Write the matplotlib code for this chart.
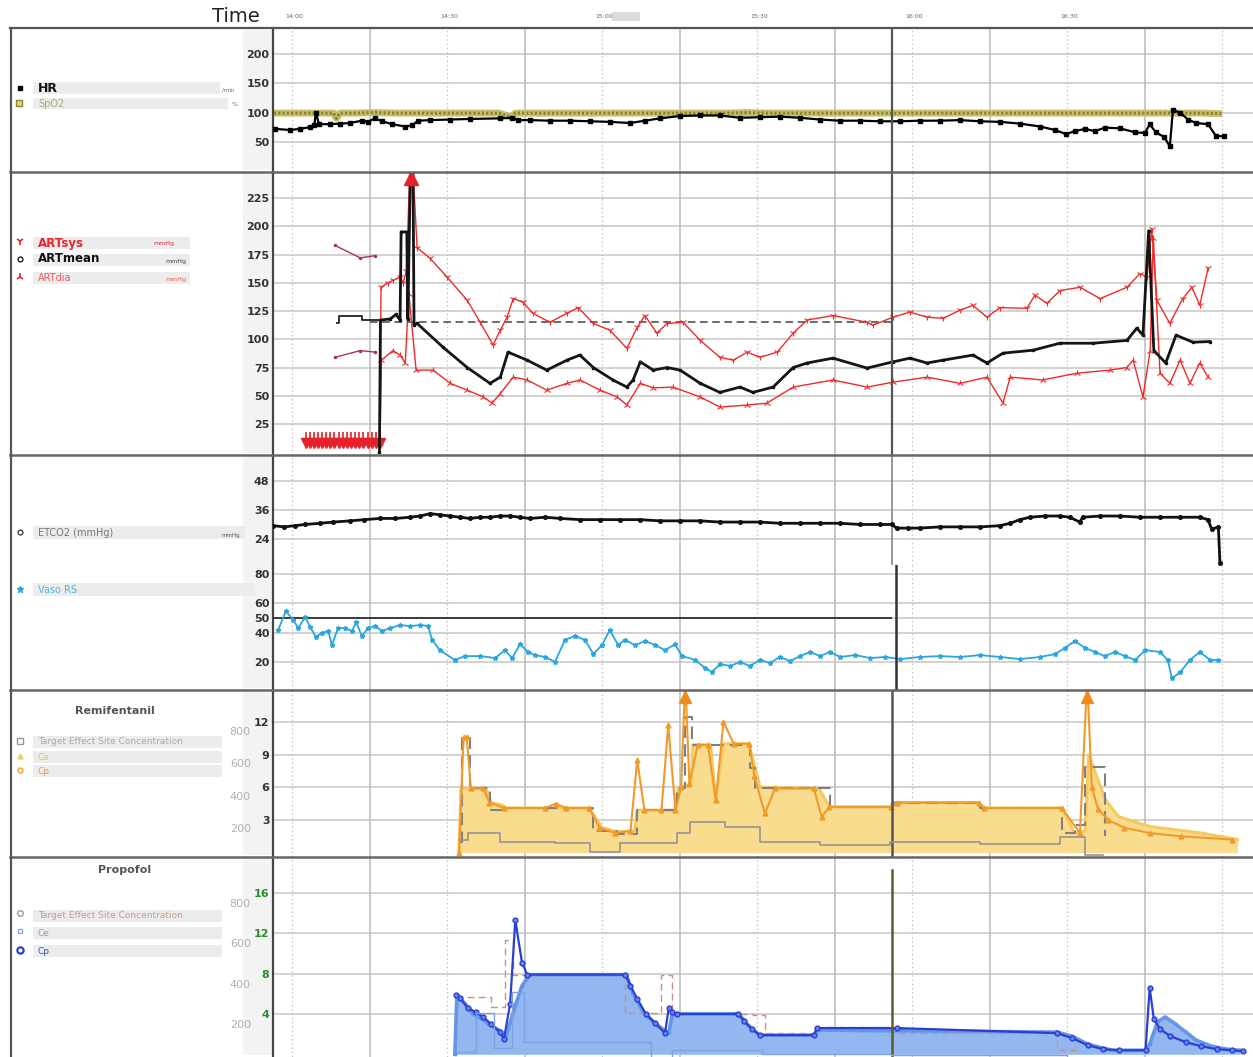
import numpy as np
import matplotlib.pyplot as plt
from matplotlib.lines import Line2D
from matplotlib.patches import Rectangle

# time base: minutes after 14:00
T0, T1 = -3.7, 186.0
cursor_t = 116.1
time_ticks = [0, 30, 60, 90, 120, 150]
time_labels = ["14:00", "14:30", "15:00", "15:30", "16:00", "16:30"]

# --- HR / SpO2 ---
hr_t = [-3.3, -0.4, 1.5, 3.5, 4.3, 4.6, 5.2, 7.4, 9.3, 11.2, 13.5, 14.7, 16.0, 17.4, 19.4,
        21.9, 23.2, 24.4, 26.7, 30.6, 34.4, 40.3, 42.6, 43.7, 46.0, 50.0, 53.8, 57.7, 61.5,
        65.4, 68.3, 71.2, 75.0, 79.0, 82.8, 86.7, 90.6, 94.4, 98.3, 102.2, 106.0, 110.0,
        113.8, 117.7, 121.5, 125.4, 129.3, 133.2, 137.0, 140.9, 144.8, 147.7, 149.8, 151.5,
        153.5, 155.4, 157.3, 160.2, 163.2, 165.1, 166.0, 167.2, 168.8, 169.9, 170.5, 171.9,
        173.4, 175.0, 177.3, 178.8, 180.4]
hr = [72, 70, 72, 75, 78, 100, 80, 80, 81, 82, 86, 84, 90, 85, 80,
      76, 78, 86, 87, 88, 89, 90, 91, 87, 87, 86, 86, 85, 84,
      82, 86, 90, 94, 95, 95, 91, 92, 93, 91, 88, 86, 86,
      85, 85, 86, 86, 87, 85, 84, 81, 76, 70, 63, 68,
      72, 68, 74, 73, 66, 65, 80, 66, 58, 42, 104, 100,
      88, 82, 80, 60, 59]
spo2_t = [-3.5, 0, 4, 8, 8.6, 9.2, 12, 16, 20, 24, 28, 32, 36, 40, 42.6, 43.2, 44, 48, 52,
          56, 60, 64, 68, 72, 76, 80, 84, 88, 92, 96, 100, 104, 108, 112, 116, 120, 124,
          128, 132, 136, 140, 144, 148, 152, 156, 160, 164, 168, 172, 176, 180]
spo2 = [99, 99, 99, 99, 90, 99, 99, 100, 99, 99, 99, 99, 99, 99, 92, 99, 99, 99, 99,
        99, 99, 99, 99, 99, 99, 99, 99, 100, 99, 99, 99, 99, 99, 99, 99, 99, 99,
        99, 99, 99, 99, 99, 99, 99, 99, 99, 99, 99, 99, 99, 98]

# --- arterial pressure ---
art_ref_level = 115
art_low_t = [2.6, 3.4, 4.2, 5.0, 5.8, 6.6, 7.4, 8.2, 9.0, 9.8, 10.6, 11.4, 12.2, 13.0,
             13.8, 14.6, 15.4, 16.2, 17.0]
art_low = [8, 8, 8, 8, 8, 8, 8, 8, 8, 8, 8, 8, 8, 8, 8, 8, 8, 8, 8]
art_over_t = [23.1]
nibp_t = [8.3, 13.2, 16.1]
nibp_sys = [183, 172, 174]
nibp_dia = [84, 90, 88.6]
nibp_mean_t = [8.7, 9.0, 13.5, 17.0]
nibp_mean = [114, 121, 117, 117]
art_sys_t = [17.0, 17.2, 18.6, 19.5, 20.9, 21.5, 22.1, 22.8, 23.4, 24.2, 26.7, 30.0, 33.9,
             36.4, 38.9, 40.3, 41.6, 42.8, 44.7, 46.6, 49.9, 53.2, 55.4, 58.3, 61.5, 64.8,
             66.8, 68.3, 70.6, 72.6, 75.7, 79.0, 82.8, 85.4, 88.1, 90.6, 93.9, 97.0, 99.7,
             104.7, 111.3, 112.4, 116.3, 119.6, 122.9, 126.0, 129.3, 131.8, 134.5, 137.0,
             142.2, 143.8, 146.1, 148.6, 152.5, 156.4, 161.6, 164.1, 165.5, 166.4, 167.4,
             169.9, 172.4, 174.2, 175.7, 177.3]
art_sys = [8, 146, 150, 152, 155, 150, 160, 250, 250, 181, 171.6, 155, 134.5,
           115, 95, 108, 119.5, 136, 132.7, 123, 115, 123, 128, 114, 108, 92,
           110.6, 121, 105.4, 114, 115, 99, 84, 81.5, 88.6, 84, 88.6, 105.4, 117,
           121, 115, 112.4, 119.5, 124, 119.5, 118.6, 125.7, 130, 119.5, 128,
           127.4, 139, 131.8, 143, 146, 136, 146, 158, 155, 198, 134.5,
           114, 136, 146, 130, 163]
art_dia_t = [17.0, 17.3, 19.5, 20.9, 21.9, 22.6, 24.0, 27.3, 30.6, 33.9, 37.0, 38.7, 40.3,
             42.8, 45.5, 49.3, 53.2, 55.7, 59.6, 62.9, 64.8, 67.4, 69.9, 73.7, 79.0, 82.8,
             88.1, 91.9, 97.0, 104.7, 111.3, 116.3, 122.9, 129.3, 134.5, 137.6, 139.0,
             145.3, 151.9, 158.3, 161.6, 162.8, 164.7, 166.1, 166.7, 168.0, 169.9, 171.9,
             173.8, 175.7, 177.3]
art_dia = [8, 81.5, 90, 86, 79, 140, 72.7, 72.7, 61, 55, 49, 43.5, 52,
           66.5, 64, 55, 61, 64, 55, 49, 41.8, 61, 57, 57.7, 49, 40,
           41.8, 43.5, 57.7, 64, 57.7, 62, 66.5, 61, 66.5, 43.5, 66.5,
           64, 70, 72.7, 75, 81.5, 49, 90, 190, 70, 61, 81.5,
           61, 79, 66.5]
art_mean_t = [16.9, 17.1, 19.0, 20.1, 20.9, 21.1, 22.2, 22.4, 22.9, 23.4, 23.6, 24.2, 29.2,
              33.9, 38.3, 40.3, 41.8, 45.5, 49.3, 53.2, 55.7, 58.3, 62.1, 64.8, 66.0, 67.4,
              69.9, 72.6, 75.1, 79.0, 82.8, 86.7, 89.2, 93.1, 97.0, 99.7, 104.7, 111.3,
              116.3, 119.6, 122.9, 126.0, 131.8, 134.5, 137.6, 143.4, 148.6, 155.0, 161.6,
              163.5, 164.7, 165.8, 166.8, 169.1, 171.1, 174.4, 177.7]
art_mean = [0, 117, 118, 122, 117, 195, 195, 118, 250, 250, 113, 114, 93,
            75, 61, 66.5, 88.6, 81.5, 72.7, 81.5, 86, 75, 64, 57.7, 64, 80,
            72.7, 75, 72.7, 61, 53, 57.7, 53, 57.7, 75, 79, 83.3, 74.5,
            80, 83.3, 79, 81.5, 86, 79, 87.7, 90.3, 96.5, 96.5, 99,
            109.8, 103.6, 196, 90, 79, 103.6, 97.4, 98]

# --- ETCO2 / Vaso RS ---
etco2_t = [-3.7, -1.5, 0.5, 2.5, 5.4, 8.0, 11.2, 14.0, 17.0, 20.0, 22.8, 24.8, 26.7, 28.7,
           30.6, 32.5, 34.4, 36.4, 38.3, 40.3, 42.2, 44.1, 46.0, 49.0, 51.9, 55.8, 59.6,
           63.5, 67.4, 71.2, 75.0, 79.0, 82.8, 86.7, 90.6, 94.4, 98.3, 102.2, 106.0, 110.0,
           113.8, 116.1, 117.0, 119.3, 121.5, 125.4, 129.3, 133.2, 137.0, 139.0, 140.9,
           142.8, 145.7, 148.6, 150.5, 152.5, 153.0, 156.4, 160.2, 164.1, 168.0, 171.9,
           175.7, 177.3, 178.0, 179.3, 179.6]
etco2 = [29.5, 29.0, 29.5, 30.0, 30.5, 31.0, 31.5, 32.0, 32.5, 32.5, 33.0, 33.5, 34.5, 34.0,
         33.5, 33.0, 32.5, 33.0, 33.0, 33.5, 33.5, 33.0, 32.5, 33.0, 32.5, 32.0, 32.0,
         32.0, 32.0, 31.5, 31.5, 31.5, 31.0, 31.0, 31.0, 30.5, 30.5, 30.5, 30.5, 30.0,
         30.0, 30.0, 28.5, 28.5, 28.5, 29.0, 29.0, 29.0, 29.5, 30.5, 32.0,
         33.0, 33.5, 33.5, 33.0, 31.0, 33.0, 33.5, 33.5, 33.0, 33.0, 33.0,
         33.0, 32.0, 28.0, 29.0, 14.0]
vaso_ref_level = 50
vaso_t = [-2.7, -1.2, 0.2, 1.2, 2.5, 3.5, 4.6, 5.8, 7.0, 7.7, 8.9, 10.3, 11.6, 12.4, 13.5,
          14.7, 16.1, 17.4, 19.0, 20.9, 22.8, 24.8, 26.3, 27.1, 28.6, 31.5, 33.5, 36.4,
          39.3, 41.2, 42.6, 44.1, 45.7, 47.0, 49.0, 50.9, 52.8, 54.8, 56.7, 58.3, 60.0,
          61.5, 63.1, 64.4, 66.4, 68.3, 70.3, 72.2, 74.1, 75.5, 78.0, 79.9, 81.3, 82.8,
          84.8, 86.7, 88.6, 90.6, 92.5, 94.4, 96.4, 98.3, 100.3, 102.2, 104.1, 106.1,
          109.0, 111.9, 114.8, 117.7, 121.5, 125.4, 129.3, 133.2, 137.0, 140.9, 144.8,
          147.7, 149.6, 151.5, 153.5, 155.4, 157.3, 159.3, 161.2, 163.2, 165.1, 168.0,
          169.5, 170.3, 171.9, 173.8, 175.7, 177.7, 179.2]
vaso = [41.7, 54.6, 48.5, 43.0, 50.5, 43.7, 37.0, 39.7, 41.0, 31.5, 43.0, 43.0, 41.0, 47.0,
        37.6, 43.0, 44.4, 41.0, 43.0, 45.0, 44.4, 45.0, 44.4, 35.0, 28.0, 21.4, 24.0, 24.0,
        22.7, 28.0, 22.7, 32.0, 26.8, 24.7, 23.4, 20.0, 35.0, 37.6, 35.0, 25.4, 31.5,
        41.7, 31.5, 35.0, 31.5, 34.2, 31.5, 28.0, 32.0, 24.0, 21.4, 16.0, 13.2, 18.6,
        17.3, 20.0, 17.3, 21.4, 19.3, 23.4, 20.7, 24.0, 26.8, 24.0, 26.8, 23.4,
        24.7, 22.7, 23.4, 22.0, 23.4, 24.0, 23.4, 24.7, 23.4, 22.0, 23.4,
        25.4, 29.5, 34.2, 29.5, 26.8, 24.0, 26.8, 24.0, 21.4, 28.0, 26.8,
        21.4, 9.0, 13.0, 21.4, 26.8, 21.4, 21.4]

# --- Remifentanil (ng/ml on right scale, rate on left scale) ---
remi_tec_t = [32.5, 32.9, 34.4, 38.3, 41.2, 58.3, 62.9, 66.8, 74.5, 76.1, 77.4, 88.6, 89.6,
              102.2, 104.1, 116.1, 133.2, 149.0, 151.5, 153.5, 157.3]
remi_tec = [1.0, 10.5, 5.9, 3.9, 4.1, 2.0, 1.7, 3.9, 5.9, 12.5, 9.9, 7.8, 5.9,
            5.9, 4.2, 4.6, 4.1, 1.8, 2.5, 7.9, 1.5]
remi_ce_t = [32.3, 32.7, 37.5, 38.5, 40.5, 41.5, 57.5, 60.0, 63.0, 66.3, 66.8, 74.0, 74.8,
             77.2, 77.6, 81.0, 82.0, 83.5, 88.4, 90.6, 102.0, 104.0, 116.0, 116.3, 133.0,
             133.5, 149.0, 151.5, 153.5, 154.2, 155.5, 157.5, 160.0, 166.0, 176.0, 183.0]
remi_ce = [0.0, 5.9, 5.9, 4.6, 4.4, 4.1, 4.1, 2.3, 1.9, 2.0, 3.9, 3.9, 6.0,
           6.3, 9.9, 9.9, 4.8, 10.0, 10.0, 6.0, 5.9, 4.2, 4.2, 4.6, 4.6,
           4.1, 4.1, 1.8, 2.0, 9.0, 7.3, 4.8, 3.3, 2.4, 1.8, 1.2]
remi_cp_t = [32.3, 33.2, 33.8, 34.6, 37.0, 38.2, 41.0, 49.0, 51.0, 53.0, 57.5, 59.5, 62.5,
             65.5, 66.8, 68.2, 71.5, 72.8, 74.2, 75.3, 76.1, 76.9, 78.5, 80.5, 82.0, 83.5,
             85.5, 88.5, 89.5, 91.5, 93.5, 101.0, 102.5, 104.0, 116.0, 117.0, 133.0, 134.0,
             149.0, 152.5, 153.9, 154.8, 156.0, 158.0, 161.0, 166.0, 172.0, 182.0]
remi_cp = [0.0, 10.6, 10.6, 5.9, 5.9, 4.6, 4.1, 4.1, 4.5, 4.1, 4.1, 2.3, 1.8,
           2.0, 8.5, 3.9, 3.9, 11.7, 3.9, 6.0, 16.0, 6.3, 9.9, 9.9, 4.8, 12.0,
           10.0, 10.0, 7.0, 3.6, 5.9, 5.9, 3.3, 4.2, 4.2, 4.6, 4.6, 4.1,
           4.1, 1.8, 16.0, 6.0, 4.0, 3.0, 2.3, 1.8, 1.5, 1.2]
remi_over_t = [76.1, 153.9]
remi_rate_t = [32.5, 34.0, 40.3, 50.9, 57.7, 63.5, 74.5, 77.0, 83.8, 90.6, 102.2, 115.7,
               133.2, 148.6, 153.5, 157.0]
remi_rate = [126, 169, 113, 107, 51, 107, 169, 237, 206, 113, 95, 113,
             100, 144, 30, 30]

# --- Propofol (ug/ml on right scale, rate on left scale) ---
prop_tec_t = [31.7, 38.5, 41.2, 42.8, 64.5, 71.4, 73.6, 89.2, 91.5, 101.2, 116.0, 148.0, 152.0]
prop_tec = [5.7, 4.7, 11.3, 7.9, 4.1, 7.9, 4.0, 3.9, 2.1, 2.7, 2.1, 0.4, 0.4]
prop_ce_t = [31.5, 31.9, 33.5, 35.0, 36.5, 38.0, 40.0, 41.3, 43.0, 44.5, 46.0, 64.7, 66.0,
             68.0, 70.0, 72.0, 72.9, 73.6, 86.5, 88.0, 90.5, 101.2, 101.5, 148.0, 151.0,
             154.0, 157.0, 159.0, 165.0, 166.0, 167.5, 169.0, 171.0, 173.0, 175.0, 178.0,
             181.0, 183.5]
prop_ce = [0.0, 5.9, 5.0, 4.0, 3.6, 3.0, 2.4, 1.6, 4.5, 6.8, 7.9, 7.9, 6.0,
           4.2, 3.2, 2.4, 2.1, 4.0, 4.0, 3.0, 1.9, 1.9, 2.4, 2.2, 1.8,
           1.0, 0.6, 0.4, 0.4, 1.0, 3.2, 3.7, 3.0, 2.2, 1.4, 0.8,
           0.5, 0.4]
prop_cp_t = [31.7, 32.5, 34.0, 35.5, 37.0, 38.5, 40.2, 41.0, 42.2, 43.2, 44.5, 45.5, 64.5,
             65.5, 66.8, 68.5, 70.2, 72.2, 72.9, 73.5, 74.5, 86.3, 87.5, 89.0, 90.5, 101.0,
             101.6, 117.0, 148.0, 151.0, 154.0, 157.0, 160.0, 165.2, 166.0, 166.8, 168.0,
             170.0, 173.0, 176.0, 179.0, 182.0, 184.0]
prop_cp = [5.9, 5.6, 4.6, 4.2, 3.7, 3.0, 2.2, 1.5, 5.0, 13.3, 9.1, 7.9, 7.9,
           6.8, 5.5, 4.0, 3.1, 2.1, 4.6, 4.2, 4.0, 4.0, 3.3, 2.5, 1.9, 1.9,
           2.6, 2.6, 2.1, 1.6, 0.9, 0.5, 0.4, 0.4, 6.6, 3.5, 2.5,
           1.8, 1.2, 0.8, 0.5, 0.4, 0.3]
prop_rate_t = [31.7, 35.6, 39.0, 42.5, 44.8, 69.5, 73.5, 91.0, 116.0, 150.0, 184.0]
prop_rate = [60, 253, 80, 357, 109, 30, 70, 50, 45, 20, 20]


W, H = 1253, 1057
fig = plt.figure(figsize=(W / 100, H / 100), dpi=100)
fig.patch.set_facecolor("white")


def box(x0, y0, x1, y1):
    return [x0 / W, 1 - y1 / H, (x1 - x0) / W, (y1 - y0) / H]


def fline(xs, ys, **kw):
    fig.add_artist(Line2D([x / W for x in xs], [1 - y / H for y in ys],
                          transform=fig.transFigure, **kw))


def frect(x0, y0, x1, y1, color):
    fig.add_artist(Rectangle((x0 / W, 1 - y1 / H), (x1 - x0) / W, (y1 - y0) / H,
                             transform=fig.transFigure, color=color, lw=0, zorder=0))


def ftext(x, y, s, **kw):
    fig.text(x / W, 1 - y / H, s, va="center", **kw)


def fmark(x, y, **kw):
    fig.add_artist(Line2D([x / W], [1 - y / H], transform=fig.transFigure, ls="none", **kw))


def panel(y0, y1, ylim, ticks, tcolor="#333333"):
    ax = fig.add_axes(box(273, y0, W, y1))
    ax.set_xlim(T0, T1)
    ax.set_ylim(*ylim)
    ax.set_xticks([])
    ax.set_yticks(ticks)
    ax.tick_params(axis="y", length=0, pad=2.5, labelsize=8, labelcolor=tcolor)
    for lab in ax.get_yticklabels():
        lab.set_fontweight("bold")
    for s in ["top", "right", "bottom"]:
        ax.spines[s].set_visible(False)
    ax.spines["left"].set_color("#444444")
    ax.spines["left"].set_linewidth(1.6)
    for v in ticks:
        ax.axhline(v, color="#c6c6c6", lw=1.1, zorder=0)
    for t in range(0, 181, 30):
        ax.axvline(t, color="#c4c4c4", lw=0.9, ls=(0, (1.2, 2.2)), zorder=0)
    for t in range(15, 181, 30):
        ax.axvline(t, color="#bababa", lw=1.1, zorder=0)
    ax.patch.set_alpha(0)
    return ax


def rate_axis(ax, ylim):
    ax2 = fig.add_axes(ax.get_position().bounds, frameon=False)
    ax2.set_xlim(T0, T1)
    ax2.set_ylim(*ylim)
    ax2.set_xticks([])
    ax2.set_yticks([200, 400, 600, 800])
    ax2.tick_params(axis="y", length=0, pad=16, labelsize=8, labelcolor="#b0b0b0")
    return ax2


# tick-label bands
for y0, y1 in [(28, 172), (172, 455), (455, 690), (690, 857), (857, 1057)]:
    frect(243, y0 + 2, 272, y1 - 2, "#f3f3f3")

# header with clock times
hax = fig.add_axes(box(273, 6, W, 28))
hax.set_xlim(T0, T1)
hax.set_ylim(0, 1)
hax.axis("off")
hax.axvspan(62.0, 67.4, ymin=0.3, ymax=0.75, color="#dcdcdc", lw=0)
for t, lab in zip(time_ticks, time_labels):
    hax.text(t + 0.4, 0.52, lab, ha="center", va="center", fontsize=4.5, color="#666666")
ftext(260, 17, "Time", ha="right", fontsize=14, color="#222222")

# ---------- HR / SpO2 ----------
ax = panel(28, 172, (-2, 245), [50, 100, 150, 200])
ax.plot(spo2_t, spo2, color="#c6bf6e", lw=5, solid_capstyle="butt", zorder=2)
ax.plot(spo2_t, spo2, color="#8a8220", lw=2.2, ls=(0, (0.7, 0.7)), zorder=3)
ax.plot(hr_t, hr, color="black", lw=1.6, marker="s", ms=2.2, zorder=4)
ax.axvline(cursor_t, color="#555555", lw=1.6, zorder=5)

# ---------- arterial pressure ----------
ax = panel(172, 455, (-2.4, 248), [25, 50, 75, 100, 125, 150, 175, 200, 225])
ax.hlines(art_ref_level, 15.0, cursor_t, colors="#444444", linestyles=(0, (5, 3)), lw=1.1, zorder=2)
ax.plot(nibp_t, nibp_sys, color="#a83060", lw=1.0, marker=".", ms=3, zorder=3)
ax.plot(nibp_t, nibp_dia, color="#a83060", lw=1.0, marker=".", ms=3, zorder=3)
ax.plot(nibp_mean_t, nibp_mean, color="#222222", lw=1.3, drawstyle="steps-post", zorder=3)
ax.plot(art_low_t, art_low, color="#e8202a", lw=2.5, marker="v", ms=7, zorder=3)
ax.plot(art_low_t, [v + 5 for v in art_low], ls="none", marker="|", ms=8, mew=1.2,
        color="#e8202a", zorder=3)
ax.plot(art_sys_t, art_sys, color="#ee2b2b", lw=1.0, marker="1", ms=5, mew=0.8, zorder=3)
ax.plot(art_dia_t, art_dia, color="#ee2b2b", lw=1.0, marker="2", ms=5, mew=0.8, zorder=3)
ax.plot(art_mean_t, art_mean, color="#151515", lw=2.0, marker="s", ms=1.8, zorder=4)
ax.plot(art_over_t, [ax.get_ylim()[1] - 5], ls="none", marker="^", ms=10, color="#e8202a", zorder=5)
ax.axvline(cursor_t, color="#555555", lw=1.6, zorder=5)

# ---------- ETCO2 ----------
ax = panel(455, 565, (13.2, 58.8), [24, 36, 48])
ax.plot(etco2_t, etco2, color="#111111", lw=2.0, marker="o", ms=2.6, zorder=3)
ax.axvline(cursor_t, color="#888888", lw=1.2, zorder=2)

# ---------- Vaso RS ----------
ax = panel(565, 690, (1.0, 85.8), [20, 40, 50, 60, 80])
ax.hlines(vaso_ref_level, T0, cursor_t, colors="#3a3a3a", lw=1.4, zorder=2)
ax.plot(vaso_t, vaso, color="#2aa6de", lw=1.3, marker="*", ms=3.5, zorder=3)
ax.axvline(cursor_t + 0.8, color="#333333", lw=1.8, zorder=4)

# ---------- Remifentanil ----------
ax = panel(690, 857, (-0.4, 14.94), [3, 6, 9, 12])
ax.fill_between(remi_ce_t, 0, remi_ce, color="#f9dc8e", lw=0, zorder=1)
ax.plot(remi_ce_t, remi_ce, color="#f6c95e", lw=2.2, zorder=2)
ax.plot(remi_tec_t, remi_tec, color="#808080", lw=1.5, ls=(0, (6, 3)),
        drawstyle="steps-post", zorder=3)
ax.plot(remi_cp_t, remi_cp, color="#f09a2a", lw=1.5, marker="^", ms=3.5, zorder=4)
ax.plot(remi_over_t, [ax.get_ylim()[1] - 0.6] * len(remi_over_t), ls="none",
        marker="^", ms=9, color="#f08a20", zorder=5)
ax.axvline(cursor_t, color="#555555", lw=1.8, zorder=6)
ax2 = rate_axis(ax, (20.6, 1053.6))
ax2.plot(remi_rate_t, remi_rate, color="#959595", lw=1.2, drawstyle="steps-post")

# ---------- Propofol ----------
ax = panel(857, 1057, (-0.27, 19.57), [4, 8, 12, 16], tcolor="#2f8a2f")
ax.fill_between(prop_ce_t, 0, prop_ce, color="#93b7f0", lw=0, zorder=1)
ax.plot(prop_ce_t, prop_ce, color="#6496e6", lw=2.6, marker="s", ms=2.0, zorder=2)
ax.plot(prop_tec_t, prop_tec, color="#c98f8a", lw=1.0, ls=(0, (5, 3)),
        drawstyle="steps-post", zorder=3)
ax.plot(prop_cp_t, prop_cp, color="#2a40d2", lw=1.6, marker="o", ms=3.5,
        mfc="#6b80ee", zorder=4)
ax.axvline(cursor_t, ymax=0.935, color="#5c5c2c", lw=1.8, zorder=6)
ax2 = rate_axis(ax, (36.4, 1028))
ax2.plot(prop_rate_t, prop_rate, color="#7ea2e2", lw=1.0, drawstyle="steps-post")

# ---------- frame lines ----------
fline([10, W], [28, 28], color="#555555", lw=1.6)
for y in [172, 455, 690, 857]:
    fline([10, W], [y, y], color="#666666", lw=1.8)
fline([11, 11], [28, 1057], color="#555555", lw=1.6)

# ---------- legend column ----------
bar = "#ececec"
# HR / SpO2
frect(33, 82, 220, 94, bar)
fmark(20, 88, marker="s", ms=3, color="black")
ftext(38, 88, "HR", fontsize=9, fontweight="bold", color="#111111")
ftext(222, 90, "/min", fontsize=4, color="#666666")
frect(33, 98, 228, 109, bar)
fmark(19, 103, marker="s", ms=4, mfc="#dcd69a", mec="#8f8724")
ftext(38, 104, "SpO2", fontsize=7, color="#a9a47a")
ftext(232, 104, "%", fontsize=4.5, color="#666666")

# arterial pressure
for yy in (243, 260, 278):
    frect(33, yy - 6, 190, yy + 6, bar)
fmark(20, 241, marker="1", ms=6, mew=1.2, color="#e8202a")
ftext(38, 243, "ARTsys", fontsize=8.5, fontweight="bold", color="#e8262c")
ftext(153, 244, "mmHg", fontsize=4.5, color="#e8262c")
fmark(20, 259, marker="o", ms=3.5, mfc="white", mec="#222222")
ftext(38, 259, "ARTmean", fontsize=8.5, fontweight="bold", color="#111111")
ftext(165, 261, "mmHg", fontsize=4.5, color="#444444")
fmark(20, 277, marker="2", ms=6, mew=1.2, color="#e8202a")
ftext(38, 278, "ARTdia", fontsize=7, color="#ee5a5a")
ftext(165, 280, "mmHg", fontsize=4.5, color="#ee5a5a")

# ETCO2 / Vaso RS
frect(33, 526, 245, 539, bar)
fmark(20, 532, marker="o", ms=3.5, mfc="white", mec="#444444")
ftext(38, 533, "ETCO2 (mmHg)", fontsize=7, color="#777777")
ftext(222, 535, "mmHg", fontsize=4, color="#555555")
frect(33, 583, 255, 596, bar)
fmark(20, 589, marker="*", ms=4.5, color="#2aa6de")
ftext(38, 590, "Vaso RS", fontsize=7, color="#56b4e6")

# Remifentanil
ftext(115, 711, "Remifentanil", ha="center", fontsize=8, fontweight="bold", color="#555555")
for yy in (742, 757, 771):
    frect(33, yy - 6, 222, yy + 6, bar)
fmark(20, 741, marker="s", ms=4, mfc="white", mec="#999999")
ftext(38, 742, "Target Effect Site Concentration", fontsize=6.5, color="#aaaaaa")
fmark(20, 756, marker="^", ms=3.5, color="#f6c95e")
ftext(38, 757, "Ce", fontsize=6.5, color="#f0c050")
fmark(20, 770, marker="o", ms=3.5, mfc="white", mec="#f0a030")
ftext(38, 771, "Cp", fontsize=6.5, color="#eaa032")

# Propofol
ftext(125, 870, "Propofol", ha="center", fontsize=8, fontweight="bold", color="#555555")
for yy in (916, 933, 951):
    frect(33, yy - 6, 222, yy + 6, bar)
fmark(20, 913, marker="o", ms=4, mfc="white", mec="#999999")
ftext(38, 916, "Target Effect Site Concentration", fontsize=6.5, color="#c99a90")
fmark(20, 931, marker="s", ms=3.5, mfc="white", mec="#8ba6e6")
ftext(38, 933, "Ce", fontsize=6.5, color="#7a9ce6")
fmark(20, 950, marker="o", ms=4.5, mfc="white", mec="#2a40d2", mew=1.6)
ftext(38, 951, "Cp", fontsize=6.5, color="#3050d8")

fig.savefig("out.png", dpi=100)
